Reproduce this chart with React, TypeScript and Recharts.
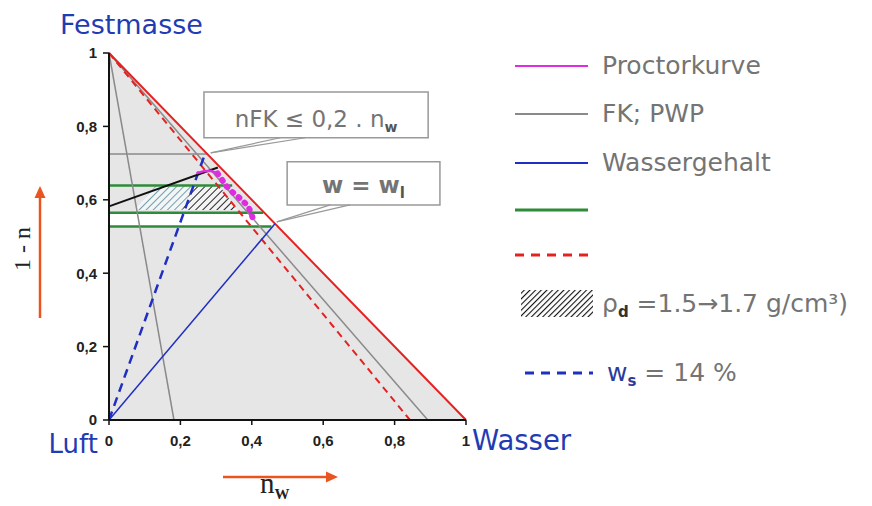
import React from 'react';
import {
  ComposedChart,
  Line,
  Area,
  XAxis,
  YAxis,
  ReferenceArea,
  ReferenceLine,
} from 'recharts';

type Pt = { x: number; y: number };
type Band = { x: number; r: [number, number] };

const xTicks = [0, 0.2, 0.4, 0.6, 0.8, 1];
const yTicks = [0, 0.2, 0.4, 0.6, 0.8, 1];

// phase triangle: solid / water / air
const saturationEdge: Pt[] = [{ x: 0, y: 1 }, { x: 1, y: 0 }];
const compactedEdge: Pt[] = [{ x: 0, y: 1 }, { x: 0.843, y: 0 }];
const fkLine: Pt[] = [{ x: 0, y: 1 }, { x: 0.893, y: 0 }];
const pwpLine: Pt[] = [{ x: 0, y: 1 }, { x: 0.182, y: 0 }];
const nfkLevel: Pt[] = [{ x: 0, y: 0.725 }, { x: 0.275, y: 0.725 }];

// dry density levels (1 - n) and where each line stops
const densityLevels = [0.639, 0.565, 0.527];
const densityEnds = [0.345, 0.432, 0.455];

const waterContent: Pt[] = [{ x: 0, y: 0 }, { x: 0.465, y: 0.535 }];
const wsLine: Pt[] = [{ x: 0, y: 0 }, { x: 0.27, y: 0.728 }];
const blackLine: Pt[] = [{ x: 0, y: 0.582 }, { x: 0.305, y: 0.688 }];

const proctorTop: Pt[] = [
  { x: 0.245, y: 0.672 },
  { x: 0.265, y: 0.678 },
  { x: 0.285, y: 0.679 },
  { x: 0.304, y: 0.672 },
];
const proctorFall: Pt[] = [
  { x: 0.304, y: 0.672 },
  { x: 0.33, y: 0.636 },
  { x: 0.348, y: 0.619 },
  { x: 0.372, y: 0.6 },
  { x: 0.39, y: 0.582 },
  { x: 0.4, y: 0.559 },
  { x: 0.404, y: 0.545 },
];

const whiteBand: Band[] = [
  { x: 0, r: [0.527, 0.565] },
  { x: 0.435, r: [0.527, 0.565] },
  { x: 0.473, r: [0.527, 0.527] },
];
const hatchLight: Band[] = [
  { x: 0.072, r: [0.572, 0.572] },
  { x: 0.13, r: [0.572, 0.637] },
  { x: 0.205, r: [0.572, 0.637] },
  { x: 0.235, r: [0.637, 0.637] },
];
const hatchDark: Band[] = [
  { x: 0.205, r: [0.572, 0.572] },
  { x: 0.235, r: [0.572, 0.637] },
  { x: 0.31, r: [0.572, 0.637] },
  { x: 0.36, r: [0.572, 0.572] },
];

const legendLabels = ['Proctorkurve', 'FK; PWP', 'Wassergehalt'];

const RED = '#e32222';
const GRAY = '#8a8a8a';
const BLUE = '#1f2fc2';
const GREEN = '#2e8b3a';
const MAGENTA = '#e02ce0';
const TEXT_GRAY = '#747474';
const TITLE_BLUE = '#1f3cb4';
const ORANGE = '#ea5420';

const fmt = (v: number) => String(v).replace('.', ',');
const sans = 'DejaVu Sans, Verdana, sans-serif';

const tickStyle = {
  fill: '#222',
  fontSize: 15,
  fontWeight: 'bold' as const,
  fontFamily: 'Liberation Sans, Arial, sans-serif',
};

const NfkLabel = (props: any) => {
  const { x, y, width } = props.viewBox;
  return (
    <text x={x + width / 2} y={y + 35} textAnchor="middle" fontFamily={sans} fontSize={23} fill={TEXT_GRAY}>
      nFK ≤ 0,2 . n
      <tspan fontSize={14} fontWeight="bold" fill="#555" dy={5}>w</tspan>
    </text>
  );
};

const WlLabel = (props: any) => {
  const { x, y, width } = props.viewBox;
  return (
    <text x={x + width / 2} y={y + 31} textAnchor="middle" fontFamily={sans} fontSize={23} fontWeight="bold" fill={TEXT_GRAY}>
      w = w
      <tspan fontSize={15} fill="#555" dy={5}>l</tspan>
    </text>
  );
};

const legendY = [58, 106, 155, 202, 247];

const Overlay = () => (
  <svg
    width={864}
    height={498}
    style={{ position: 'absolute', left: 0, top: 0, pointerEvents: 'none' }}
  >
    <defs>
      <pattern id="legendHatch" patternUnits="userSpaceOnUse" width="4" height="4" patternTransform="rotate(45)">
        <rect width="4" height="4" fill="#fff" />
        <line x1="0" y1="0" x2="0" y2="4" stroke="#111" strokeWidth="2.2" />
      </pattern>
    </defs>

    <text x={52} y={26} fontFamily={sans} fontSize={27} fill={TITLE_BLUE}>Festmasse</text>
    <text x={90} y={445} textAnchor="end" fontFamily={sans} fontSize={26} fill={TITLE_BLUE}>Luft</text>
    <text x={464} y={442} fontFamily={sans} fontSize={27.5} fill={TITLE_BLUE}>Wasser</text>

    {/* y axis title with arrow */}
    <text
      x={14}
      y={241}
      textAnchor="middle"
      dominantBaseline="central"
      transform="rotate(-90 14 241)"
      fontFamily="Liberation Serif, Times New Roman, serif"
      fontSize={24}
      fill="#222"
    >
      1 - n
    </text>
    <line x1={32} y1={310} x2={32} y2={186} stroke={ORANGE} strokeWidth={2.5} />
    <polygon points="32,178 26.5,190 37.5,190" fill={ORANGE} />

    {/* x axis title with arrow */}
    <line x1={215} y1={469} x2={320} y2={469} stroke={ORANGE} strokeWidth={2.5} />
    <polygon points="330,469 318,463.5 318,474.5" fill={ORANGE} />
    <text x={252} y={485} fontFamily="Liberation Serif, Times New Roman, serif" fontSize={29} fill="#222">
      n
      <tspan fontSize={15} fontWeight="bold" dy={6}>W</tspan>
    </text>

    {/* legend */}
    {legendLabels.map((label, i) => (
      <g key={label}>
        <line
          x1={507}
          x2={580}
          y1={legendY[i]}
          y2={legendY[i]}
          stroke={[MAGENTA, GRAY, BLUE][i]}
          strokeWidth={2}
        />
        <text x={594} y={legendY[i] + 8} fontFamily={sans} fontSize={25} fill={TEXT_GRAY}>
          {label}
        </text>
      </g>
    ))}
    <line x1={507} x2={580} y1={legendY[3]} y2={legendY[3]} stroke={GREEN} strokeWidth={3} />
    <line x1={507} x2={580} y1={legendY[4]} y2={legendY[4]} stroke={RED} strokeWidth={3} strokeDasharray="9 7" />
    <rect x={513} y={282} width={72} height={27} fill="url(#legendHatch)" />
    <text x={594} y={304} fontFamily={sans} fontSize={25} fill={TEXT_GRAY}>
      ρ
      <tspan fontSize={15} fontWeight="bold" fill="#333" dy={5}>d</tspan>
      <tspan dy={-5}> =1.5→1.7 g/cm³)</tspan>
    </text>
    <line x1={517} x2={585} y1={365} y2={365} stroke={BLUE} strokeWidth={3} strokeDasharray="9 7" />
    <text x={599} y={373} fontFamily={sans} fontSize={25} fill={TEXT_GRAY}>
      <tspan fill="#2b3b9a">w</tspan>
      <tspan fill="#2b3b9a" fontWeight="bold" fontSize={15} dy={5}>s</tspan>
      <tspan dy={-5}> = 14 %</tspan>
    </text>
  </svg>
);

const App = () => {
  return (
    <div style={{ position: 'relative', width: 864, height: 498 }}>
      <ComposedChart width={864} height={498} margin={{ top: 45, right: 406, bottom: 56, left: 61 }}>
        <defs>
          <pattern id="hatchLight" patternUnits="userSpaceOnUse" width="5" height="5" patternTransform="rotate(45)">
            <rect width="5" height="5" fill="#f4f6f6" />
            <line x1="0" y1="0" x2="0" y2="5" stroke="#5b8fa4" strokeWidth="1.7" />
          </pattern>
          <pattern id="hatchDark" patternUnits="userSpaceOnUse" width="5" height="5" patternTransform="rotate(45)">
            <rect width="5" height="5" fill="#f4f4f4" />
            <line x1="0" y1="0" x2="0" y2="5" stroke="#111" strokeWidth="1.8" />
          </pattern>
        </defs>

        <XAxis
          type="number"
          dataKey="x"
          domain={[0, 1]}
          ticks={xTicks}
          tickFormatter={fmt}
          height={30}
          tickSize={5}
          tickMargin={10}
          tick={tickStyle}
          axisLine={{ stroke: '#111', strokeWidth: 2 }}
          tickLine={{ stroke: '#111', strokeWidth: 1.5 }}
        />
        <YAxis
          type="number"
          domain={[0, 1]}
          ticks={yTicks}
          tickFormatter={fmt}
          width={40}
          tickSize={6}
          tickMargin={6}
          tick={tickStyle}
          axisLine={{ stroke: '#111', strokeWidth: 2 }}
          tickLine={{ stroke: '#111', strokeWidth: 1.5 }}
        />

        <Area data={saturationEdge} dataKey="y" type="linear" stroke="none" fill="#e6e6e6" fillOpacity={1} isAnimationActive={false} />
        <Area data={whiteBand} dataKey="r" type="linear" stroke="none" fill="#ffffff" fillOpacity={1} isAnimationActive={false} />
        <Area data={hatchLight} dataKey="r" type="linear" stroke="none" fill="url(#hatchLight)" fillOpacity={1} isAnimationActive={false} />
        <Area data={hatchDark} dataKey="r" type="linear" stroke="none" fill="url(#hatchDark)" fillOpacity={1} isAnimationActive={false} />

        <Line data={nfkLevel} dataKey="y" stroke={GRAY} strokeWidth={1.5} dot={false} activeDot={false} isAnimationActive={false} />
        {densityLevels.map((lvl, i) => (
          <Line
            key={lvl}
            data={[{ x: 0, y: lvl }, { x: densityEnds[i], y: lvl }]}
            dataKey="y"
            stroke={GREEN}
            strokeWidth={2.5}
            dot={false}
            activeDot={false}
            isAnimationActive={false}
          />
        ))}
        <Line data={pwpLine} dataKey="y" stroke={GRAY} strokeWidth={1.5} dot={false} activeDot={false} isAnimationActive={false} />
        <Line data={fkLine} dataKey="y" stroke={GRAY} strokeWidth={1.5} dot={false} activeDot={false} isAnimationActive={false} />
        <Line data={compactedEdge} dataKey="y" stroke={RED} strokeWidth={2} strokeDasharray="7 5" dot={false} activeDot={false} isAnimationActive={false} />
        <Line data={saturationEdge} dataKey="y" stroke={RED} strokeWidth={2} dot={false} activeDot={false} isAnimationActive={false} />
        <Line data={waterContent} dataKey="y" stroke={BLUE} strokeWidth={1.5} dot={false} activeDot={false} isAnimationActive={false} />
        <Line data={wsLine} dataKey="y" stroke={BLUE} strokeWidth={2.5} strokeDasharray="9 6" dot={false} activeDot={false} isAnimationActive={false} />
        <Line data={blackLine} dataKey="y" stroke="#111" strokeWidth={2} dot={false} activeDot={false} isAnimationActive={false} />
        <Line data={proctorTop} dataKey="y" stroke={MAGENTA} strokeWidth={2.5} dot={false} activeDot={false} isAnimationActive={false} />
        <Line
          data={proctorFall}
          dataKey="y"
          stroke={MAGENTA}
          strokeWidth={6}
          strokeLinecap="round"
          strokeDasharray="1 7"
          dot={false}
          activeDot={false}
          isAnimationActive={false}
        />

        <ReferenceLine segment={[{ x: 0.285, y: 0.728 }, { x: 0.48, y: 0.769 }]} stroke="#999" strokeWidth={1.2} />
        <ReferenceLine segment={[{ x: 0.285, y: 0.728 }, { x: 0.55, y: 0.769 }]} stroke="#999" strokeWidth={1.2} />
        <ReferenceLine segment={[{ x: 0.47, y: 0.54 }, { x: 0.62, y: 0.586 }]} stroke="#999" strokeWidth={1.2} />
        <ReferenceLine segment={[{ x: 0.47, y: 0.54 }, { x: 0.675, y: 0.586 }]} stroke="#999" strokeWidth={1.2} />
        <ReferenceArea x1={0.266} x2={0.894} y1={0.769} y2={0.894} fill="#fff" fillOpacity={1} stroke="#999" strokeWidth={1.5} label={NfkLabel} />
        <ReferenceArea x1={0.499} x2={0.927} y1={0.586} y2={0.704} fill="#fff" fillOpacity={1} stroke="#999" strokeWidth={1.5} label={WlLabel} />
      </ComposedChart>
      <Overlay />
    </div>
  );
};

export default App;
